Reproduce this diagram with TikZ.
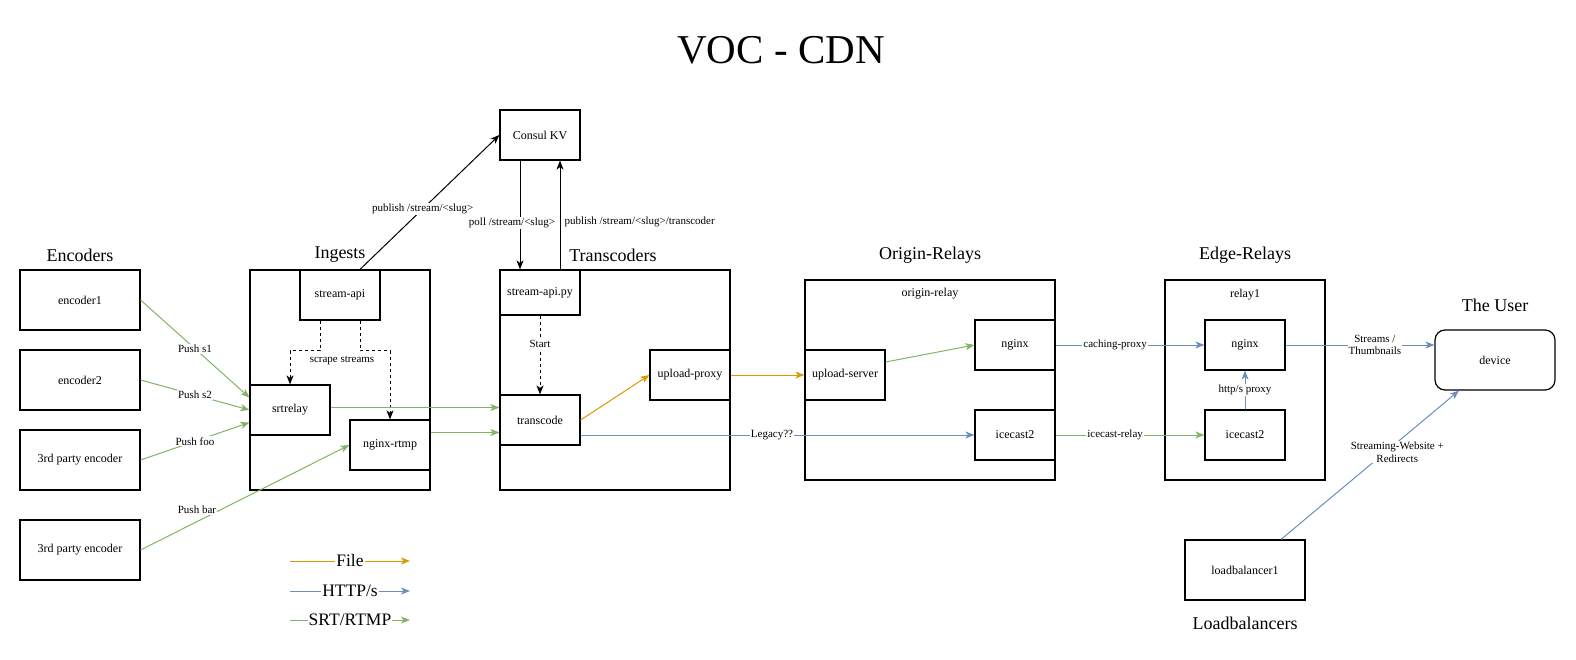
\documentclass[tikz,border=0pt]{standalone}
\usepackage{fontspec}
\setmainfont{Liberation Serif}
\usetikzlibrary{arrows.meta}
\definecolor{cOrange}{HTML}{D79B00}
\definecolor{cBlue}{HTML}{6C8EBF}
\definecolor{cGreen}{HTML}{82B366}
\tikzset{
  box/.style={draw=black, line width=1.2pt, fill=white, inner sep=0pt, minimum width=80pt, minimum height=50pt, font=\fontsize{12}{14}\selectfont},
  wbox/.style={box, minimum width=120pt, minimum height=60pt},
  cont/.style={draw=black, line width=1.2pt, inner sep=0pt},
  ttl/.style={font=\fontsize{18}{20}\selectfont, inner sep=0pt},
  lgd/.style={font=\fontsize{17.5}{20}\selectfont, fill=white, inner sep=1pt},
  lbl/.style={font=\fontsize{11}{12.5}\selectfont, fill=white, inner sep=1pt, align=center, text=black},
  lblnobg/.style={font=\fontsize{11}{12.5}\selectfont, inner sep=1pt, text=black},
  tip/.style={-{Stealth[length=9pt,width=7pt,inset=2.5pt]}},
  blk/.style={tip, draw=black, line width=1pt},
  dsh/.style={tip, draw=black, line width=1pt, dash pattern=on 3pt off 3pt},
  grn/.style={tip, draw=cGreen, line width=1pt},
  blu/.style={tip, draw=cBlue, line width=1pt},
  org/.style={tip, draw=cOrange, line width=1pt},
}
\begin{document}
\begin{tikzpicture}[x=1pt,y=-1pt]
\useasboundingbox[fill=white] (0,0) rectangle (1576,660);

% title
\node[font=\fontsize{41}{46}\selectfont, inner sep=0pt] (title) at (781,50) {VOC - CDN};

% section titles
\node[ttl] (tEnc) at (80,255) {Encoders};
\node[ttl] (tIng) at (340,255) {Ingests};
\node[ttl] (tTrc) at (613,255) {Transcoders};
\node[ttl] (tOri) at (930,255) {Origin-Relays};
\node[ttl] (tEdg) at (1245,255) {Edge-Relays};
\node[ttl] (tUsr) at (1495,305) {The User};
\node[ttl] (tLb) at (1245,623) {Loadbalancers};

% containers
\node[cont, minimum width=180pt, minimum height=220pt] (ingC) at (340,380) {};
\node[cont, minimum width=230pt, minimum height=220pt] (trcC) at (615,380) {};
\node[cont, minimum width=250pt, minimum height=200pt] (oriC) at (930,380) {};
\node[cont, minimum width=160pt, minimum height=200pt] (edgC) at (1245,380) {};
\node[lblnobg, font=\fontsize{12}{14}\selectfont] (oriLbl) at (930,294) {origin-relay};
\node[lblnobg, font=\fontsize{12}{14}\selectfont] (edgLbl) at (1245,295) {relay1};

% encoders
\node[wbox] (enc1) at (80,300) {encoder1};
\node[wbox] (enc2) at (80,380) {encoder2};
\node[wbox] (enc3) at (80,460) {3rd party encoder};
\node[wbox] (enc4) at (80,550) {3rd party encoder};

% consul
\node[box] (consul) at (540,135) {Consul KV};

% ingests
\node[box] (sapi) at (340,295) {stream-api};
\node[box] (srt) at (290,410) {srtrelay};
\node[box] (rtmp) at (390,445) {nginx-rtmp};

% transcoders
\node[box, minimum height=45pt] (sapipy) at (540,292.5) {stream-api.py};
\node[box] (tc) at (540,420) {transcode};
\node[box] (uproxy) at (690,375) {upload-proxy};

% origin
\node[box] (userver) at (845,375) {upload-server};
\node[box] (onginx) at (1015,345) {nginx};
\node[box] (oice) at (1015,435) {icecast2};

% edge
\node[box] (enginx) at (1245,345) {nginx};
\node[box] (eice) at (1245,435) {icecast2};

% user
\node[wbox, rounded corners=10pt] (device) at (1495,360) {device};

% loadbalancer
\node[wbox] (lb) at (1245,570) {loadbalancer1};

% consul connectors
\draw[blk] ([xshift=20pt]sapi.north) -- node[lbl, pos=.45] {publish /stream/<slug>} (consul.west);
\draw[blk] ([xshift=-20pt]consul.south) -- node[lbl, pos=.57, xshift=-8pt] {poll /stream/<slug>} ([xshift=-20pt]sapipy.north);
\draw[blk] ([xshift=20pt]sapipy.north) -- node[lblnobg, pos=.44, anchor=west, xshift=3pt] {publish /stream/<slug>/transcoder} ([xshift=20pt]consul.south);

% scrape
\draw[dsh] ([xshift=-20pt]sapi.south) -- ++(0,30) -| (srt.north);
\draw[dsh] ([xshift=20pt]sapi.south) -- ++(0,30) -| (rtmp.north);
\node[lblnobg] (scrape) at (342,361) {scrape streams};

% pushes
\draw[grn] (enc1.east) -- node[lbl, pos=.5] {Push s1} ([yshift=12.5pt]srt.west);
\draw[grn] (enc2.east) -- node[lbl, pos=.5] {Push s2} (srt.west);
\draw[grn] (enc3.east) -- node[lbl, pos=.5] {Push foo} ([yshift=-12.5pt]srt.west);
\draw[grn] (enc4.east) -- node[lbl, pos=.27, yshift=12pt] {Push bar} (rtmp.west);

% ingest -> transcode
\draw[grn] ([yshift=2.5pt]srt.east) -- ([yshift=12.5pt]tc.west);
\draw[grn] ([yshift=12.5pt]rtmp.east) -- ([yshift=-12.5pt]tc.west);

% transcoder internals
\draw[dsh] (sapipy.south) -- node[lbl, pos=.36] {Start} (tc.north);
\draw[org] (tc.east) -- (uproxy.west);
\draw[blu] ([yshift=-15pt]tc.east) -- node[lbl, pos=.486] {Legacy??} (oice.west);
\draw[org] (uproxy.east) -- (userver.west);

% origin
\draw[grn] ([yshift=13pt]userver.east) -- (onginx.west);
\draw[blu] (onginx.east) -- node[lbl, pos=.4] {caching-proxy} (enginx.west);
\draw[grn] (oice.east) -- node[lbl, pos=.4] {icecast-relay} (eice.west);

% edge
\draw[blu] (eice.north) -- node[lbl, pos=.5] {http/s proxy} (enginx.south);
\draw[blu] (enginx.east) -- node[lbl, pos=.6] {Streams /\\Thumbnails} ([yshift=15pt]device.west);
\draw[blu] ([xshift=36pt]lb.north) -- node[lbl, pos=.653, yshift=-10pt] {Streaming-Website +\\Redirects} ([xshift=-36pt]device.south);

% legend
\coordinate (lf1) at (290,561); \coordinate (lf2) at (410,561);
\coordinate (lh1) at (290,591); \coordinate (lh2) at (410,591);
\coordinate (ls1) at (290,620); \coordinate (ls2) at (410,620);
\draw[org] (lf1) -- node[lgd] {File} (lf2);
\draw[blu] (lh1) -- node[lgd] {HTTP/s} (lh2);
\draw[grn] (ls1) -- node[lgd] {SRT/RTMP} (ls2);
\end{tikzpicture}
\end{document}
